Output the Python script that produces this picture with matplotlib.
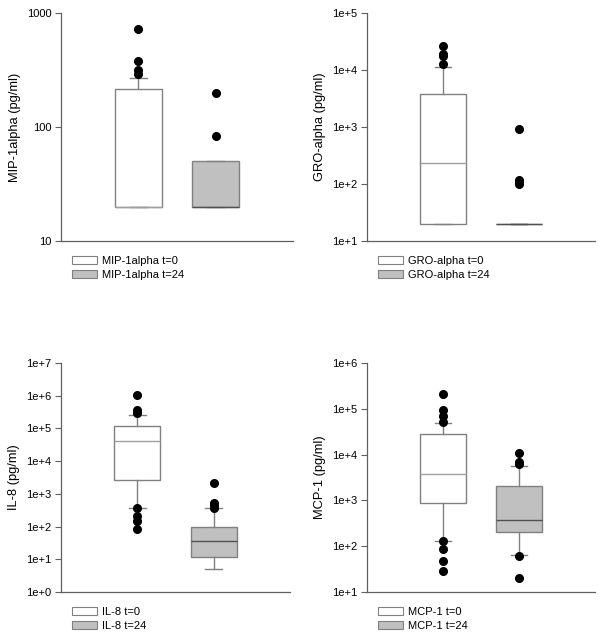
import matplotlib
matplotlib.use("Agg")
import matplotlib.pyplot as plt
from matplotlib.patches import Patch
from matplotlib.ticker import FixedLocator, FuncFormatter, NullLocator

plt.rcParams['font.family'] = ['Liberation Sans', 'DejaVu Sans']

# ---------------- data ----------------
groups = ["t=0", "t=24"]

mip_names = ["MIP-1alpha t=0", "MIP-1alpha t=24"]
mip_q1 = [20, 20]
mip_med = [20, 20]
mip_q3 = [217, 50]
mip_lo = [20, 20]
mip_hi = [267, 50]
mip_fliers = [[730, 379, 314, 294], [200, 83]]

gro_names = ["GRO-alpha t=0", "GRO-alpha t=24"]
gro_q1 = [20, 20]
gro_med = [237, 20]
gro_q3 = [3740, 20]
gro_lo = [20, 20]
gro_hi = [11300, 20]
gro_fliers = [[26000, 19400, 17600, 12600], [910, 119, 108, 99]]

il8_names = ["IL-8 t=0", "IL-8 t=24"]
il8_q1 = [2590, 12.1]
il8_med = [41600, 37.5]
il8_q3 = [122700, 96]
il8_lo = [376, 5.07]
il8_hi = [249000, 359]
il8_fliers = [[1.07e6, 354000, 320000, 293000, 359, 209, 150, 83],
              [2200, 537, 454, 372]]

mcp_names = ["MCP-1 t=0", "MCP-1 t=24"]
mcp_q1 = [875, 203]
mcp_med = [3840, 377]
mcp_q3 = [28800, 2030]
mcp_lo = [131, 65.7]
mcp_hi = [50200, 5560]
mcp_fliers = [[206000, 93500, 68000, 51900, 128, 87.5, 48.5, 28.4],
              [10900, 6800, 6300, 60, 20.3]]

panels = [
    dict(ylabel="MIP-1alpha (pg/ml)", names=mip_names, q1=mip_q1, med=mip_med,
         q3=mip_q3, lo=mip_lo, hi=mip_hi, fl=mip_fliers, ylim=(10, 1000),
         ticks=[10, 100, 1000], plain=True),
    dict(ylabel="GRO-alpha (pg/ml)", names=gro_names, q1=gro_q1, med=gro_med,
         q3=gro_q3, lo=gro_lo, hi=gro_hi, fl=gro_fliers, ylim=(1e1, 1e5),
         ticks=[1e1, 1e2, 1e3, 1e4, 1e5], plain=False),
    dict(ylabel="IL-8 (pg/ml)", names=il8_names, q1=il8_q1, med=il8_med,
         q3=il8_q3, lo=il8_lo, hi=il8_hi, fl=il8_fliers, ylim=(1e0, 1e7),
         ticks=[1e0, 1e1, 1e2, 1e3, 1e4, 1e5, 1e6, 1e7], plain=False),
    dict(ylabel="MCP-1 (pg/ml)", names=mcp_names, q1=mcp_q1, med=mcp_med,
         q3=mcp_q3, lo=mcp_lo, hi=mcp_hi, fl=mcp_fliers, ylim=(1e1, 1e6),
         ticks=[1e1, 1e2, 1e3, 1e4, 1e5, 1e6], plain=False),
]

fills = ["white", "#c0c0c0"]
edge = "#808080"
med_colors = ["#a0a0a0", "#505050"]

fig = plt.figure(figsize=(6.0, 6.34), dpi=100)
W, H = 600.0, 634.0
rects = [
    (61, 13, 293, 241),
    (367, 13, 595, 241),
    (61, 363, 290, 592),
    (367, 363, 595, 592),
]


def sci(v, pos):
    import math
    e = int(round(math.log10(v)))
    return "1e+%d" % e


for p, (x0, y0, x1, y1) in zip(panels, rects):
    ax = fig.add_axes([x0 / W, 1 - y1 / H, (x1 - x0) / W, (y1 - y0) / H])
    stats = []
    for i in range(2):
        stats.append(dict(med=p["med"][i], q1=p["q1"][i], q3=p["q3"][i],
                          whislo=p["lo"][i], whishi=p["hi"][i],
                          fliers=p["fl"][i], label=p["names"][i]))
    for i in range(2):
        ax.bxp([stats[i]], positions=[i + 1], widths=0.6, patch_artist=True,
               showfliers=True, capwidths=0.22,
               boxprops=dict(facecolor=fills[i], edgecolor=edge, linewidth=1.0),
               medianprops=dict(color=med_colors[i], linewidth=1.0),
               whiskerprops=dict(color=edge, linewidth=1.0),
               capprops=dict(color=edge, linewidth=1.0),
               flierprops=dict(marker='o', markerfacecolor='black',
                               markeredgecolor='black', markersize=5.5,
                               linestyle='none'))
    ax.set_yscale('log')
    ax.set_ylim(*p["ylim"])
    ax.set_xlim(0, 3)
    ax.yaxis.set_major_locator(FixedLocator(p["ticks"]))
    ax.yaxis.set_minor_locator(NullLocator())
    if p["plain"]:
        ax.yaxis.set_major_formatter(FuncFormatter(lambda v, pos: "%d" % round(v)))
    else:
        ax.yaxis.set_major_formatter(FuncFormatter(sci))
    ax.set_xticks([])
    for s in ("top", "right"):
        ax.spines[s].set_visible(False)
    for s in ("left", "bottom"):
        ax.spines[s].set_color("#606060")
        ax.spines[s].set_linewidth(0.9)
    ax.tick_params(axis='y', direction='out', length=4, width=0.8,
                   color="#606060", labelsize=8, pad=3)
    ax.set_ylabel(p["ylabel"], fontsize=9.3, labelpad=4)
    handles = [Patch(facecolor=fills[i], edgecolor=edge, linewidth=0.8,
                     label=p["names"][i]) for i in range(2)]
    ax.legend(handles=handles, loc='upper left', bbox_to_anchor=(0.03, -0.045),
              frameon=False, fontsize=8, handlelength=2.2, handleheight=0.8,
              labelspacing=0.35, handletextpad=0.5, borderaxespad=0)

fig.savefig("out.png", dpi=100)
